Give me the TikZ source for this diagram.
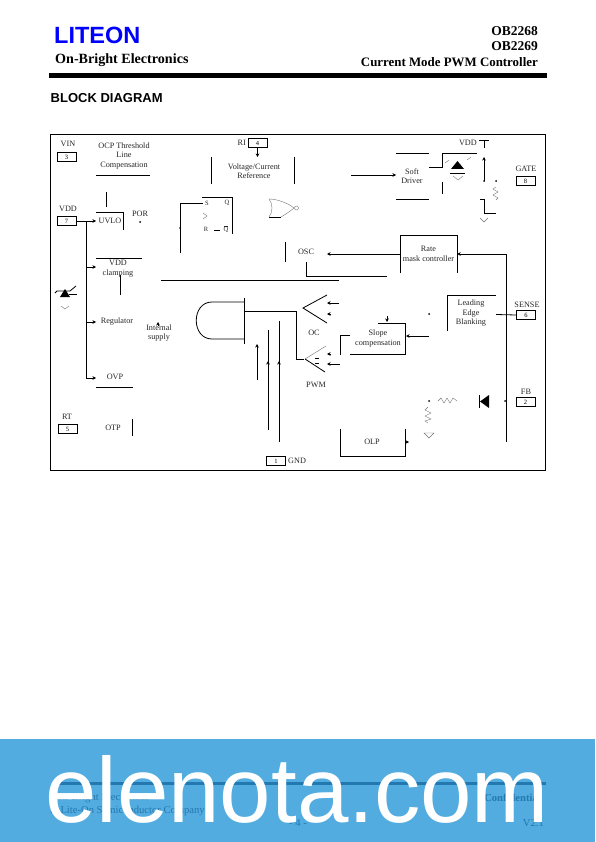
\documentclass[tikz,border=0pt]{standalone}
\usepackage{fontspec}
\setmainfont{Liberation Serif}
\setsansfont{Liberation Sans}
\usetikzlibrary{arrows.meta}
\definecolor{bandblue}{HTML}{52ACE0}
\definecolor{footblue}{HTML}{2378B0}
\tikzset{
  wire/.style={line width=0.8pt},
  arr/.style={line width=0.8pt,-{Stealth[length=3.5pt,width=3.5pt]}},
  lbl/.style={font=\fontsize{8.2}{9.5}\selectfont,align=center,inner sep=0pt,text=black!85},
  pinbox/.style={draw,line width=0.8pt,minimum width=19pt,minimum height=8.5pt,inner sep=0pt,font=\fontsize{6.5}{7}\selectfont},
  faint/.style={line width=0.4pt,black!55},
  head/.style={inner sep=0pt,font=\bfseries\fontsize{13.5}{15}\selectfont},
  foot/.style={inner sep=0pt,text=footblue,font=\fontsize{10.6}{12}\selectfont},
}
\begin{document}
\begin{tikzpicture}[x=1pt,y=-1pt]
\useasboundingbox (0,0) rectangle (595,842);
% header
\node[inner sep=0pt,anchor=west,text=blue,font=\sffamily\bfseries\fontsize{23.5}{24}\selectfont] (logo) at (54,35) {LITEON};
\node[head,anchor=west,font=\bfseries\fontsize{14.1}{15}\selectfont] (brand) at (55,60) {On-Bright Electronics};
\node[head,anchor=east] (chipa) at (538,31) {OB2268};
\node[head,anchor=east] (chipb) at (538,46) {OB2269};
\node[head,anchor=east,font=\bfseries\fontsize{12.9}{15}\selectfont] (title) at (538,62) {Current Mode PWM Controller};
\fill (49,73) rectangle (547,78);
\node[inner sep=0pt,anchor=west,font=\sffamily\bfseries\fontsize{13}{14}\selectfont] (heading) at (50.5,98.5) {BLOCK DIAGRAM};
% frame
\draw[wire] (50.5,134.5) rectangle (545.5,470);
% pins
\node[lbl] (vinl) at (68,144) {VIN};
\node[pinbox] (vin) at (66.5,157) {3};
\node[lbl] (vddl) at (68,209) {VDD};
\node[pinbox] (vdd) at (66.5,221) {7};
\node[lbl] (rtl) at (67,417) {RT};
\node[pinbox] (rt) at (67.5,429) {5};
\node[lbl,anchor=east] (rial) at (246,143) {RI};
\node[pinbox] (ri) at (257.5,143) {4};
\node[lbl] (gatel) at (526,169) {GATE};
\node[pinbox] (gate) at (525.5,181) {8};
\node[lbl] (sensel) at (527,305) {SENSE};
\node[pinbox] (sense) at (526,315) {6};
\node[lbl] (fbl) at (526,392) {FB};
\node[pinbox] (fb) at (525.5,402) {2};
\node[pinbox] (gnd) at (276,461) {1};
\node[lbl,anchor=west] (gndl) at (288,461) {GND};
% blocks, left column
\node[lbl] (ocp) at (124,156) {OCP Threshold\\Line\\Compensation};
\draw[wire] (96,175) -- (150,175);
\node[lbl] (uvlo) at (110,221) {UVLO};
\draw[wire] (106,192) -- (106,207);
\draw[wire] (96,212) -- (123,212) -- (123,230);
\node[lbl] (por) at (140,214) {POR};
\node[lbl] (vddc) at (118,268.5) {VDD\\clamping};
\draw[wire] (96,258) -- (142,258);
\draw[wire] (120,275) -- (120,295);
\node[lbl] (reg) at (117,322) {Regulator};
\node[lbl] (ovp) at (115,377) {OVP};
\draw[wire] (96,387) -- (133,387);
\node[lbl] (otp) at (113,428) {OTP};
\draw[wire] (132,419) -- (132,436);
\node[lbl] (intsup) at (159,333) {Internal\\supply};
% vdd rail
\coordinate (railtop) at (86,221);
\coordinate (railbot) at (86,378);
\draw[wire] (vdd) -- (railtop) -- (railbot);
\draw[arr] (railbot) -- (96,378);
\draw[arr] (railtop) -- (96,221);
\draw[arr] (86,267) -- (96,267);
\draw[arr] (86,322) -- (96,322);
\fill (140,222) circle (1pt);
\draw[arr] (158,326) -- (158,322);
% zener
\fill (60,297) -- (70,297) -- (65,289) -- cycle;
\draw[wire] (55,293) -- (57,291) -- (70,291) -- (76,286);
\draw[wire] (69,294) -- (77,294);
\draw[faint] (61,306) -- (65,309) -- (69,306);
% latch
\draw[wire] (180,253) -- (180,203) -- (203,203);
\draw[wire] (202,197) -- (232,197) -- (232,234);
\node[lbl,font=\fontsize{6.5}{7}\selectfont] (sl) at (207,203) {S};
\node[lbl,font=\fontsize{6.5}{7}\selectfont] (ql) at (227,203) {Q};
\node[lbl,font=\fontsize{6.5}{7}\selectfont] (rl) at (206,229) {R};
\node[lbl,font=\fontsize{6.5}{7}\selectfont] (rb) at (226,229) {$\overline{\mathrm{Q}}$};
\draw[faint] (203,213) -- (207,216) -- (203,219);
\draw[wire] (214,230) -- (220,230);
\fill (180,228) circle (1pt);
% reference
\draw[arr] (ri) -- (257.5,157);
\node[lbl] (ref) at (254,171) {Voltage/Current\\Reference};
\draw[wire] (211.5,157) -- (211.5,184);
\draw[wire] (294.5,157) -- (294.5,184);
% nor gate
\draw[wire] (269,217) -- (281,217);
\draw[faint] (269,199) .. controls (277,199) and (288,203) .. (294,208) .. controls (288,213) and (281,217) .. (281,217);
\draw[faint] (269,199) .. controls (273,204) and (273,212) .. (269,217);
\draw[faint] (296.5,208) circle (2pt);
% osc
\node[lbl] (osc) at (306,251.5) {OSC};
\draw[wire] (285.5,242) -- (285.5,262);
\draw[wire] (306,262) -- (306,276) -- (387,276);
\draw[wire] (161,280.5) -- (339,280.5);
% soft driver
\node[lbl] (soft) at (412,176) {Soft\\Driver};
\draw[wire] (396,153) -- (429,153);
\draw[wire] (396,199) -- (429,199);
\draw[arr] (351,175) -- (396,175);
\draw[wire] (429,167) -- (442,167) -- (442,153) -- (477,153);
\draw[wire] (442,182) -- (442,194);
\fill (451,169) -- (464,169) -- (457.5,161) -- cycle;
\draw[wire] (450,173) -- (465,173);
\draw[faint] (453,176) -- (458,180) -- (463,176);
\draw[faint] (445,163) -- (449,160) (467,160) -- (471,157);
\node[lbl,anchor=east] (vddr) at (477,143) {VDD};
\draw[wire] (479,140.5) -- (489,140.5) (484,140.5) -- (484,148);
\draw[arr] (484,181) -- (484,157);
\draw[wire] (480,199) -- (484,199) -- (484,213) -- (496,213);
\fill (484,181) circle (1pt);
\draw[faint] (496,187) -- (493,189) -- (498,192) -- (493,195) -- (498,198) -- (496,200);
\fill (496,181) circle (1pt);
\draw[faint] (480,218) -- (484,222) -- (488,218);
% mask controller
\node[lbl,minimum width=57pt,minimum height=38pt] (mask) at (428.5,254) {Rate\\mask controller};
\draw[wire] (400,273) -- (400,235.5) -- (457,235.5) -- (457,273);
\coordinate (railmid) at (506.5,254);
\draw[arr] (railmid) -- (mask.east);
\draw[arr] (mask.west) -- (327,254);
\draw[wire] (railmid) -- (506.5,442);
% gates
\draw[wire] (244.5,298) -- (244.5,344);
\draw[wire] (244,302) -- (212,302) .. controls (191,302) and (191,339) .. (212,339) -- (244,339);
\draw[wire] (245,311) -- (296,311) -- (296,359) -- (304,359);
\draw[wire] (327,295) -- (303,308) -- (327,323);
\draw[faint] (305,359) -- (326,346);
\draw[wire] (305,359) -- (325,372);
\draw[arr] (339,303) -- (327,303);
\draw[arr] (331,314) -- (327,314);
\draw[arr] (331,354) -- (327,354);
\draw[arr] (340,364) -- (327,364);
\draw[wire] (315,358) -- (319,358) (315,363) -- (319,363);
\node[lbl] (oc) at (314,333) {OC};
\node[lbl] (pwm) at (316,385) {PWM};
\draw[arr] (257,380) -- (257,344);
\draw[wire] (268,430) -- (268,330);
\draw[arr] (268,366) -- (268,361);
\draw[wire] (279,442) -- (279,321);
\draw[arr] (279,366) -- (279,361);
% slope
\node[lbl] (slope) at (378,338.5) {Slope\\compensation};
\draw[wire] (350,335) -- (340,335) -- (340,355);
\draw[wire] (350,354) -- (405,354) -- (405,323) -- (378,323);
\draw[arr] (387,316) -- (387,322);
\draw[arr] (429,336) -- (406,336);
\fill (429,314) circle (1pt) (429,401) circle (1pt) (505,401) circle (1pt);
% leading edge
\node[lbl] (leb) at (471,313.5) {Leading\\Edge\\Blanking};
\draw[wire] (447,331) -- (447,295.5) -- (496,295.5);
\draw[wire] (496,314.5) -- (sense.west);
% fb side
\fill (489,395) -- (489,408) -- (480,401.5) -- cycle;
\draw[wire] (479,395) -- (479,408);
\draw[faint] (438,401) -- (441,398) -- (444,403) -- (447,398) -- (450,403) -- (453,398) -- (457,401);
\draw[faint] (428,407) -- (425,410) -- (431,413) -- (425,416) -- (431,419) -- (425,421) -- (428,423);
\draw[faint] (424,433) -- (434,433) -- (429,438) -- cycle;
% olp
\node[lbl] (olp) at (372,442) {OLP};
\draw[wire] (340,429) -- (340,456) -- (405,456) -- (405,429);
\draw[arr] (405,442) -- (409,442);
% footer band
\fill[fill=bandblue] (0,739) rectangle (595,842);
\fill[fill=footblue] (53,782) rectangle (546,785);
\node[foot,anchor=west] (footb) at (55,798) {On-Bright Electronics};
\node[foot,anchor=west] (footc) at (50,811) {A Lite-On Semiconductor Company};
\node[foot,anchor=east,font=\bfseries\fontsize{10.6}{12}\selectfont] (footd) at (541,798) {Confidential};
\node[foot] (foote) at (298,823) {- 4 -};
\node[foot,anchor=east] (footf) at (544,823) {V2.1};
\node[inner sep=0pt,anchor=base,text=white,font=\sffamily\fontsize{92.5}{92}\selectfont] (mark) at (297,822) {elenota.com};
\end{tikzpicture}
\end{document}
